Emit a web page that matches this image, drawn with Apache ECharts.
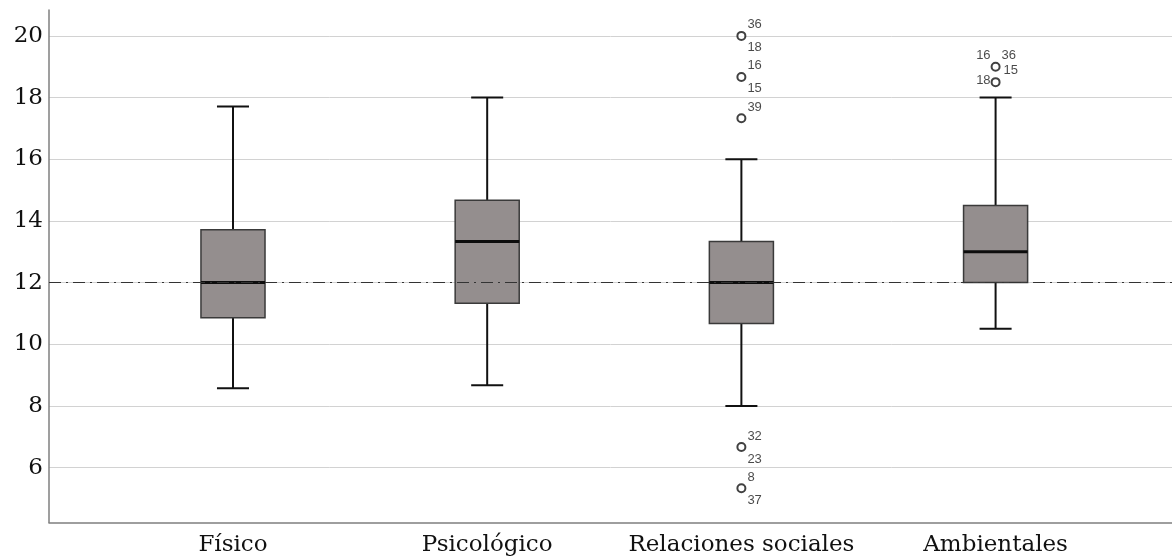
<!DOCTYPE html>
<html><head><meta charset="utf-8">
<script src="https://cdn.jsdelivr.net/npm/echarts@6/dist/echarts.min.js"></script>
<style>html,body{margin:0;padding:0;background:#fff}#c{width:1172px;height:558px}</style>
</head><body><div id="c"></div>
<script>
// ---- data ----
const categories = ['Físico', 'Psicológico', 'Relaciones sociales', 'Ambientales'];
const whiskerLow  = [8.57, 8.67, 8.00, 10.5];
const q1          = [10.86, 11.33, 10.67, 12.0];
const median      = [12.0, 13.33, 12.0, 13.0];
const q3          = [13.71, 14.67, 13.33, 14.5];
const whiskerHigh = [17.71, 18.0, 16.0, 18.0];
const outlierCategory = [2, 2, 2, 2, 2, 3, 3];
const outlierValue    = [20.0, 18.67, 17.33, 6.67, 5.33, 19.0, 18.5];
const outlierCases    = [['36', '18'], ['16', '15'], ['39'], ['32', '23'], ['8', '37'], ['16', '36', '15'], ['18']];
const yTicks = [6, 8, 10, 12, 14, 16, 18, 20];
const referenceValue = 12;

// ---- styling ----
const caseLabelSlots = [['tr', 'br'], ['tr', 'br'], ['tr'], ['tr', 'br'], ['tr', 'br'], ['tl', 'tr', 'r'], ['l']];
const slotOffset = { tr: [6, -11, 'left'], br: [6, 12, 'left'], tl: [-5, -11, 'right'], r: [8, 4, 'left'], l: [-5, -2, 'right'] };
const serif = 'DejaVu Serif';

const boxData = categories.map((c, i) => [i, whiskerLow[i], q1[i], median[i], q3[i], whiskerHigh[i]]);
const outlierData = outlierCategory.map((c, k) => [c, outlierValue[k]]);
const labelData = [];
outlierCases.forEach((ids, k) => {
  ids.forEach((id, j) => {
    const s = slotOffset[caseLabelSlots[k][j]];
    labelData.push({
      value: [outlierCategory[k], outlierValue[k]],
      label: { position: [s[0], s[1]], align: s[2], formatter: id }
    });
  });
});

const chart = echarts.init(document.getElementById('c'), null, { renderer: 'canvas' });
chart.setOption({
  animation: false,
  backgroundColor: '#ffffff',
  grid: { left: 49, right: 0, top: 10, bottom: 35.5, containLabel: false },
  xAxis: {
    type: 'value', min: -0.7238, max: 3.694,
    splitLine: { show: false },
    axisTick: { show: false },
    axisLine: { show: true, onZero: false, lineStyle: { color: '#7f7f7f', width: 1.5 } },
    axisLabel: {
      customValues: [0, 1, 2, 3],
      formatter: v => categories[Math.round(v)],
      fontFamily: serif, fontSize: 23, color: '#111', margin: 11
    }
  },
  yAxis: {
    type: 'value', min: 4.22, max: 20.84,
    axisLine: { show: true, onZero: false, lineStyle: { color: '#7f7f7f', width: 1.5 } },
    axisTick: { show: false, customValues: yTicks },
    axisLabel: { customValues: yTicks, fontFamily: serif, fontSize: 23, color: '#111', margin: 6 },
    splitLine: { show: true, lineStyle: { color: '#d2d2d2', width: 1 } }
  },
  series: [
    {
      type: 'scatter', data: [], z: 1, silent: true,
      markLine: {
        silent: true, symbol: 'none', label: { show: false },
        lineStyle: { color: '#333', width: 1.2, type: [12, 5, 2, 5] },
        data: [{ yAxis: referenceValue }]
      }
    },
    {
      type: 'custom', z: 2, data: boxData,
      encode: { x: 0, y: [1, 2, 3, 4, 5] },
      renderItem: function (params, api) {
        const i = api.value(0);
        const lo = api.coord([i, api.value(1)]);
        const b1 = api.coord([i, api.value(2)]);
        const md = api.coord([i, api.value(3)]);
        const b3 = api.coord([i, api.value(4)]);
        const hi = api.coord([i, api.value(5)]);
        const band = api.size([1, 0])[0];
        const hw = band * 0.126, cw = band * 0.063;
        const x = lo[0];
        const ws = { stroke: '#111', lineWidth: 2 };
        return {
          type: 'group', children: [
            { type: 'line', shape: { x1: x, y1: hi[1], x2: x, y2: b3[1] }, style: ws },
            { type: 'line', shape: { x1: x, y1: b1[1], x2: x, y2: lo[1] }, style: ws },
            { type: 'line', shape: { x1: x - cw, y1: hi[1], x2: x + cw, y2: hi[1] }, style: ws },
            { type: 'line', shape: { x1: x - cw, y1: lo[1], x2: x + cw, y2: lo[1] }, style: ws },
            { type: 'rect', shape: { x: x - hw, y: b3[1], width: 2 * hw, height: b1[1] - b3[1] },
              style: { fill: '#948e8e', stroke: '#3a3a3a', lineWidth: 1.5 } },
            { type: 'line', shape: { x1: x - hw, y1: md[1], x2: x + hw, y2: md[1] }, style: { stroke: '#0d0d0d', lineWidth: 3 } }
          ]
        };
      }
    },
    {
      type: 'scatter', z: 3, data: outlierData, symbol: 'emptyCircle', symbolSize: 8,
      itemStyle: { color: '#111', borderWidth: 1.5 }
    },
    {
      type: 'scatter', z: 4, data: labelData, symbolSize: 0,
      itemStyle: { color: 'transparent' },
      label: { show: true, verticalAlign: 'middle', fontFamily: 'Liberation Sans', fontSize: 13, color: '#1a1a1a' }
    }
  ]
});
</script></body></html>
